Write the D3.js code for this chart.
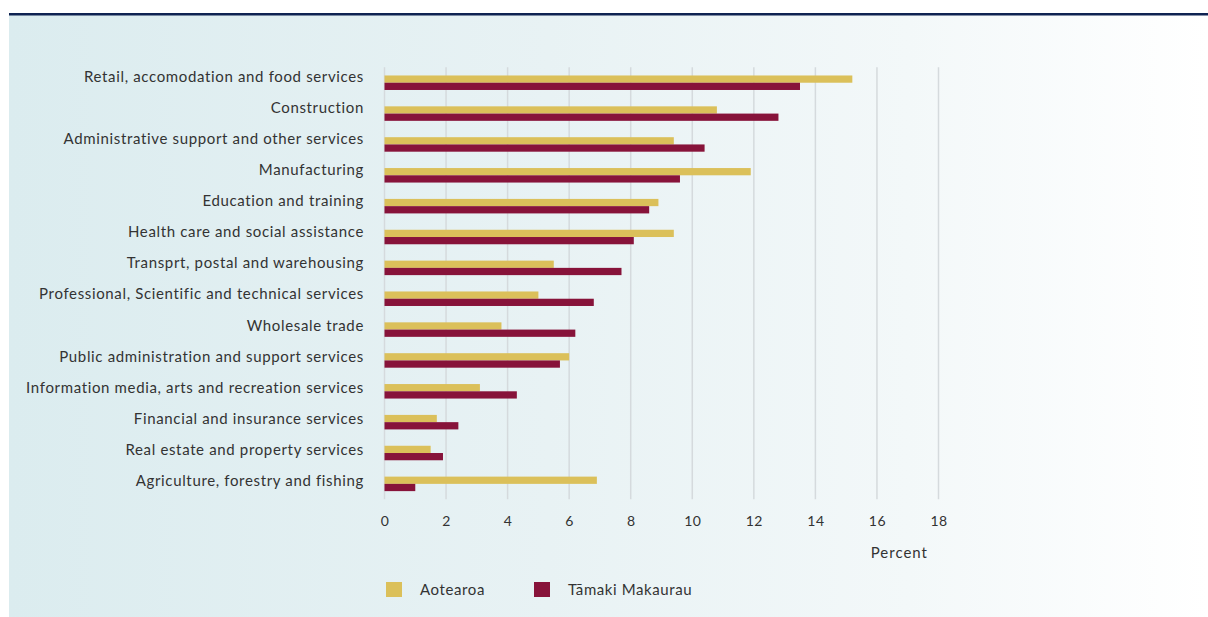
<!DOCTYPE html>
<html>
<head>
<meta charset="utf-8">
<script src="https://cdn.jsdelivr.net/npm/d3@7"></script>
<style>
  html, body { margin: 0; padding: 0; background: #ffffff; }
  svg { display: block; }
  text { font-family: Lato, "Open Sans", sans-serif; fill: #333333; }
</style>
</head>
<body>
<svg id="chart" width="1208" height="617"></svg>
<script>
// Industry categories, top to bottom
const categories = [
  "Retail, accomodation and food services",
  "Construction",
  "Administrative support and other services",
  "Manufacturing",
  "Education and training",
  "Health care and social assistance",
  "Transprt, postal and warehousing",
  "Professional, Scientific and technical services",
  "Wholesale trade",
  "Public administration and support services",
  "Information media, arts and recreation services",
  "Financial and insurance services",
  "Real estate and property services",
  "Agriculture, forestry and fishing"
];

// Share of employment (percent)
const aotearoa = [15.2, 10.8, 9.4, 11.9, 8.9, 9.4, 5.5, 5.0, 3.8, 6.0, 3.1, 1.7, 1.5, 6.9];
const tamakiMakaurau = [13.5, 12.8, 10.4, 9.6, 8.6, 8.1, 7.7, 6.8, 6.2, 5.7, 4.3, 2.4, 1.9, 1.0];

const seriesNames = ["Aotearoa", "Tāmaki Makaurau"];
const seriesColors = ["#dbc05a", "#87133a"];
const xTicks = [0, 2, 4, 6, 8, 10, 12, 14, 16, 18];
const xTitle = "Percent";

const svg = d3.select("#chart");

// Panel background with a soft left-to-right fade
const defs = svg.append("defs");
const grad = defs.append("linearGradient").attr("id", "panelFade")
  .attr("x1", "0%").attr("x2", "100%").attr("y1", "0%").attr("y2", "0%");
grad.append("stop").attr("offset", "0%").attr("stop-color", "#dbecef");
grad.append("stop").attr("offset", "45%").attr("stop-color", "#e8f2f4");
grad.append("stop").attr("offset", "75%").attr("stop-color", "#f3f8f9");
grad.append("stop").attr("offset", "100%").attr("stop-color", "#ffffff");

svg.append("rect").attr("x", 9).attr("y", 15).attr("width", 1199).attr("height", 602)
  .attr("fill", "url(#panelFade)");
svg.append("rect").attr("x", 9).attr("y", 13).attr("width", 1199).attr("height", 2.5)
  .attr("fill", "#0f2352");

const x = d3.scaleLinear().domain([0, 18]).range([384.5, 938.5]);
const y = d3.scaleBand().domain(categories).range([67.3, 499.3])
  .paddingInner(0.53).paddingOuter(0.265);
const ySub = d3.scaleBand().domain(seriesNames).range([0, y.bandwidth()]);
// Baselines for the category labels
const yLabel = d3.scalePoint().domain(categories).range([81.7, 486]);

// Vertical gridlines
svg.append("g").selectAll("line").data(xTicks).join("line")
  .attr("x1", d => x(d)).attr("x2", d => x(d))
  .attr("y1", y.range()[0]).attr("y2", y.range()[1])
  .attr("stroke", "#d5dadd").attr("stroke-width", 1.5);

// Bars
const rows = categories.map((c, i) => ({ c, vals: [aotearoa[i], tamakiMakaurau[i]] }));
const g = svg.append("g").selectAll("g").data(rows).join("g")
  .attr("transform", d => `translate(0,${y(d.c)})`);
g.selectAll("rect").data(d => d.vals.map((v, k) => ({ v, k }))).join("rect")
  .attr("x", x(0))
  .attr("y", d => ySub(seriesNames[d.k]))
  .attr("width", d => x(d.v) - x(0))
  .attr("height", ySub.bandwidth())
  .attr("fill", d => seriesColors[d.k]);

// Category labels
svg.append("g").selectAll("text").data(categories).join("text")
  .attr("x", 364)
  .attr("y", d => yLabel(d))
  .attr("text-anchor", "end")
  .attr("font-size", 15)
  .attr("letter-spacing", 0.65)
  .text(d => d);

// X axis tick labels
const xAxis = d3.axisBottom(x).tickValues(xTicks).tickSize(0).tickPadding(0);
const ax = svg.append("g").attr("transform", "translate(0,526)").call(xAxis);
ax.select(".domain").remove();
ax.selectAll("text").attr("font-size", 14).attr("dy", 0).attr("fill", "#333333")
  .attr("letter-spacing", 0.5)
  .style("font-family", "Lato, sans-serif");

svg.append("text").attr("x", 928).attr("y", 558).attr("text-anchor", "end")
  .attr("font-size", 15).attr("letter-spacing", 1).text(xTitle);

// Legend
const leg = svg.append("g").selectAll("g").data(seriesNames).join("g")
  .attr("transform", (d, i) => `translate(${[386, 534][i]},582)`);
leg.append("rect").attr("width", 16).attr("height", 15).attr("fill", (d, i) => seriesColors[i]);
leg.append("text").attr("x", 34).attr("y", 13).attr("font-size", 15)
  .attr("letter-spacing", 0.6).text(d => d);
</script>
</body>
</html>
